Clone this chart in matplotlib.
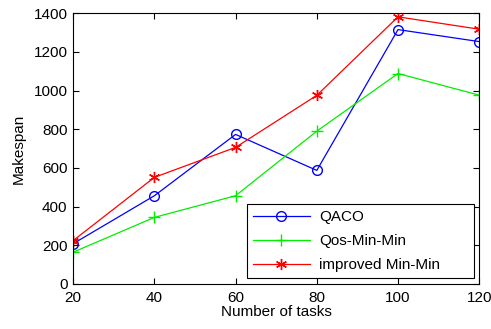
import matplotlib
matplotlib.use('Agg')
import matplotlib.pyplot as plt

plt.rcParams['font.family'] = ['Liberation Sans', 'DejaVu Sans']

# Data
tasks = [20, 40, 60, 80, 100, 120]
qaco = [208, 456, 773, 587, 1315, 1253]
qos_minmin = [164, 344, 456, 790, 1088, 976]
improved_minmin = [224, 551, 706, 975, 1381, 1317]

fig = plt.figure(figsize=(4.91, 3.29), dpi=100)
ax = fig.add_axes([0.149, 0.137, 0.827, 0.823])

ax.plot(tasks, qaco, color='blue', marker='o', markersize=7,
        markerfacecolor='none', linewidth=0.9, label='QACO')
ax.plot(tasks, qos_minmin, color='#00ee00', marker='+', markersize=9,
        linewidth=0.9, label='Qos-Min-Min')
ax.plot(tasks, improved_minmin, color='red', marker=(6, 2, 0), markersize=8,
        linewidth=0.9, label='improved Min-Min')

ax.set_xlim(20, 120)
ax.set_ylim(0, 1400)
ax.set_xticks(tasks)
ax.set_yticks(range(0, 1401, 200))
ax.tick_params(direction='in', labelsize=11, top=True, right=True, length=4)
ax.tick_params(axis='x', pad=5)
ax.tick_params(axis='y', pad=4)
ax.set_xlabel('Number of tasks', fontsize=11, labelpad=0)
ax.set_ylabel('Makespan', fontsize=11, labelpad=6)

leg = ax.legend(loc='lower left', bbox_to_anchor=(0.428, 0.022, 0.56, 0.3),
                mode='expand', borderaxespad=0, fontsize=11, fancybox=False,
                edgecolor='black', framealpha=1, handlelength=3.7,
                handletextpad=0.6, labelspacing=0.65)
leg.get_frame().set_linewidth(0.8)

fig.savefig('out.png', dpi=100)
